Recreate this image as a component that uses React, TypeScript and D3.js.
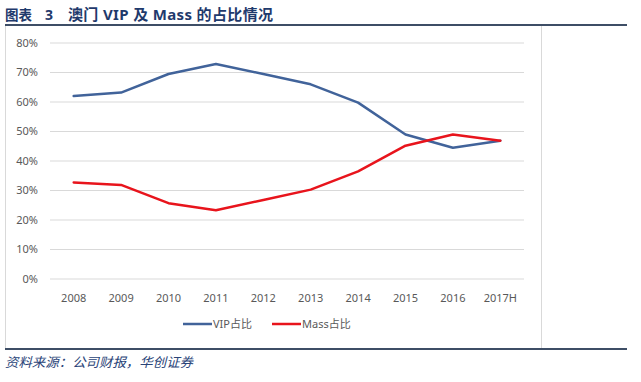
import React from "react";
import * as d3 from "d3";

const years = ["2008", "2009", "2010", "2011", "2012", "2013", "2014", "2015", "2016", "2017H"];
const vipShare = [0.62, 0.632, 0.695, 0.729, 0.695, 0.66, 0.598, 0.49, 0.445, 0.469];
const massShare = [0.327, 0.319, 0.257, 0.233, 0.268, 0.303, 0.365, 0.452, 0.49, 0.469];
const yTicks = [0, 0.1, 0.2, 0.3, 0.4, 0.5, 0.6, 0.7, 0.8];
const seriesNames = ["VIP占比", "Mass占比"];

const FONT = "'Noto Sans', 'Noto Sans CJK SC', sans-serif";
const BLUE = "#41639A";
const RED = "#E8141C";

export default function App() {
  const x = d3.scaleBand<string>().domain(years).range([50, 524]).padding(0);
  const y = d3.scaleLinear().domain([0, 0.8]).range([279, 43]);
  const cx = (d: string) => (x(d) as number) + x.bandwidth() / 2;
  const line = d3
    .line<number>()
    .x((_, i) => cx(years[i]))
    .y((v) => y(v));
  const fmt = d3.format(".0%");
  const series = [
    { name: seriesNames[0], values: vipShare, color: BLUE },
    { name: seriesNames[1], values: massShare, color: RED },
  ];
  const legendX = [183, 272];

  return (
    <div style={{ position: "absolute", left: 0, top: 0 }}>
      <svg width={641} height={382} style={{ display: "block", background: "#fff" }}>
        <text x={5} y={20} fontFamily={FONT} fontWeight="bold" fontSize={14} fill="#1F3A6C">
          <tspan x={5} textLength={27} lengthAdjust="spacingAndGlyphs">图表</tspan>
          <tspan x={45}>3</tspan>
        </text>
        <text x={68} y={20} fontFamily={FONT} fontWeight="bold" fontSize={15} fill="#1F3A6C" textLength={205} lengthAdjust="spacing">
          澳门 VIP 及 Mass 的占比情况
        </text>
        <line x1={5} x2={627} y1={25} y2={25} stroke="#3E4E66" strokeWidth={2} />
        <line x1={5} x2={627} y1={349} y2={349} stroke="#3E4E66" strokeWidth={2} />
        <line x1={5.5} x2={5.5} y1={26} y2={348} stroke="#D9D9D9" strokeWidth={1} />
        <line x1={541.5} x2={541.5} y1={26} y2={348} stroke="#D9D9D9" strokeWidth={1} />

        {yTicks.map((t) => (
          <g key={t}>
            <line x1={50} x2={524} y1={y(t)} y2={y(t)} stroke="#D9D9D9" strokeWidth={1} />
            <text x={38} y={y(t)} dy="0.35em" textAnchor="end" fontFamily={FONT} fontSize={11} fill="#595959">
              {fmt(t)}
            </text>
          </g>
        ))}
        {years.map((yr) => (
          <text key={yr} x={cx(yr)} y={302} textAnchor="middle" fontFamily={FONT} fontSize={11} fill="#595959">
            {yr}
          </text>
        ))}
        {series.map((s) => (
          <path key={s.name} d={line(s.values) || ""} fill="none" stroke={s.color} strokeWidth={2.5} strokeLinejoin="round" strokeLinecap="round" />
        ))}
        {series.map((s, i) => (
          <g key={s.name} transform={`translate(${legendX[i]},324)`}>
            <line x1={0} x2={29} y1={0} y2={0} stroke={s.color} strokeWidth={2.5} />
            <text x={30} y={0} dy="0.35em" fontFamily={FONT} fontSize={11} fill="#595959">
              {s.name}
            </text>
          </g>
        ))}
        <text x={5} y={367} fontFamily={FONT} fontStyle="italic" fontSize={13} fill="#2A4478" textLength={188} lengthAdjust="spacingAndGlyphs">
          资料来源：公司财报，华创证券
        </text>
      </svg>
    </div>
  );
}
